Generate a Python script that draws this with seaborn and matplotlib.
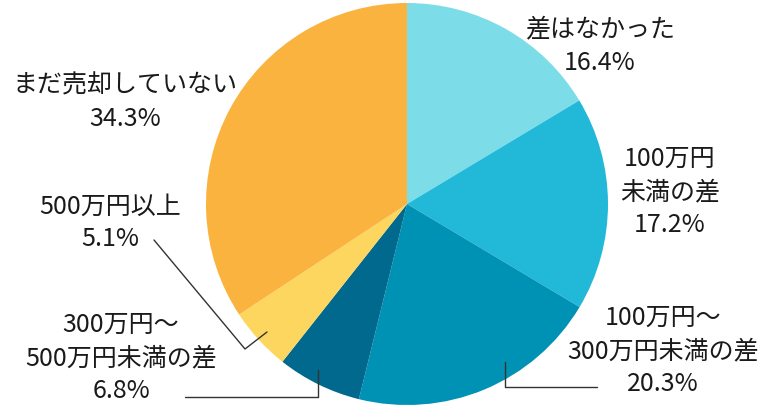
import matplotlib.pyplot as plt
import seaborn as sns

# データ
labels = ['差はなかった', '100万円\n未満の差', '100万円〜\n300万円未満の差',
          '300万円〜\n500万円未満の差', '500万円以上', 'まだ売却していない']
shares = [16.4, 17.2, 20.3, 6.8, 5.1, 34.3]
colors = ['#7cdde9', '#22b8d8', '#0092b4', '#01698d', '#fcd65e', '#fbb33f']

sns.set_theme(style='white')
plt.rcParams['font.family'] = ['Noto Sans CJK JP', 'DejaVu Sans']

W, H = 780, 410
fig = plt.figure(figsize=(W / 100, H / 100), dpi=100)
ax = fig.add_axes([0, 0, 1, 1])

# 円グラフ（12時から時計回り）
ax.pie(shares, colors=colors, center=(407, H - 205), radius=201,
       startangle=90, counterclock=False,
       wedgeprops=dict(linewidth=0))

ax.set_xlim(0, W)
ax.set_ylim(0, H)
ax.set_aspect('equal')
ax.axis('off')

# ラベル位置（画像座標: 上から）
label_pos = [(600, 46), (670, 192), (663, 351), (121, 358), (110, 223), (125, 102)]
for lab, val, (x, y) in zip(labels, shares, label_pos):
    ax.text(x, H - y, f'{lab}\n{val}%', ha='center', va='center',
            fontsize=18, linespacing=1.35, color='#1a1a1a')

# 引き出し線
leaders = [
    [(597, 388), (505, 388), (505, 363)],
    [(185, 398), (318, 398), (318, 371)],
    [(154, 241), (245, 350), (267, 333)],
]
for pts in leaders:
    xs = [p[0] for p in pts]
    ys = [H - p[1] for p in pts]
    ax.plot(xs, ys, color='#333333', linewidth=1)

plt.savefig('out.png', dpi=100)
